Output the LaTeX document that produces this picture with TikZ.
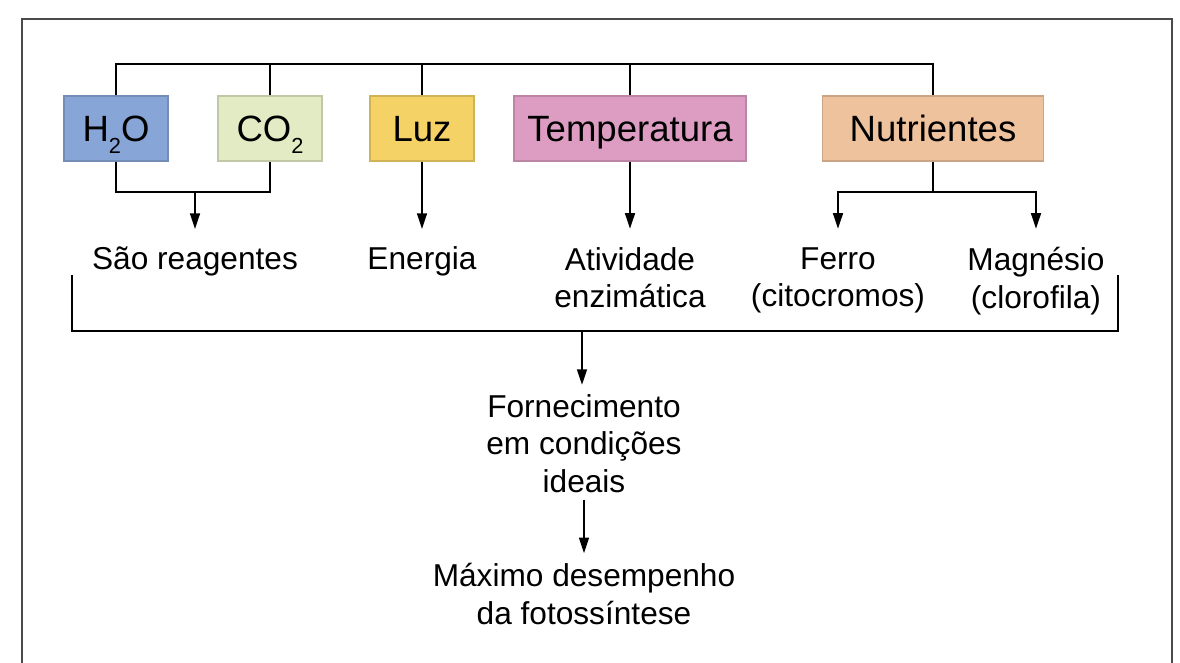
\documentclass[tikz,border=0pt]{standalone}
\usepackage{fontspec}
\setmainfont{Liberation Sans}
\usetikzlibrary{arrows.meta}

\definecolor{aguaBlue}{HTML}{87A6D7}
\definecolor{gasGreen}{HTML}{E2EBC3}
\definecolor{luzYellow}{HTML}{F5D266}
\definecolor{tempPink}{HTML}{DD9DC2}
\definecolor{nutriOrange}{HTML}{EEC29D}
\definecolor{frameGray}{HTML}{4A4A4A}

\newcommand{\subdois}[1]{\raisebox{-8.5pt}{\fontsize{15.5}{15.5}\selectfont #1}}

\tikzset{
  factor/.style={draw=#1!85!black, fill=#1, line width=0.8pt,
    minimum height=1.625cm, inner sep=0pt, text height=18.6pt, text depth=0pt,
    font=\fontsize{26}{30}\selectfont},
  effect/.style={anchor=north, align=center, inner sep=0pt,
    execute at begin node=\strut,
    font=\fontsize{22.5}{26.7}\selectfont},
  link/.style={line width=1.3pt},
  arrow/.style={line width=1.3pt, -{Triangle[length=11pt,width=7pt]}}
}

\begin{document}
\begin{tikzpicture}[x=0.025cm, y=-0.025cm]
        \useasboundingbox (0,0) rectangle (1180,663);
        \draw[frameGray, line width=1.5pt] (22,663) -- (22,19) -- (1172,19) -- (1172,663);

        % factors
        \node[factor=aguaBlue, minimum width=2.6cm] (h2o) at (116,128.5) {H\subdois{2}O};
        \node[factor=gasGreen, minimum width=2.6cm] (co2) at (270,128.5) {CO\subdois{2}};
        \node[factor=luzYellow, minimum width=2.6cm] (luz) at (422,128.5) {Luz};
        \node[factor=tempPink, minimum width=5.8cm] (temp) at (630,128.5) {Temperatura};
        \node[factor=nutriOrange, minimum width=5.525cm] (nutri) at (933,128.5) {Nutrientes};

        \coordinate (topbar) at (0,64);
        \draw[link] (h2o.north) |- (nutri.north |- topbar) -- (nutri.north);
        \foreach \f in {co2, luz, temp} {
            \draw[link] (\f.north) -- (\f.north |- topbar);
        }

        % effects
        \node[effect] (reag) at (195,243) {São reagentes};
        \node[effect] (energia) at (422,243) {Energia};
        \node[effect] (enzima) at (630,247) {Atividade\\enzimática};
        \node[effect] (ferro) at (838,247) {Ferro\\(citocromos)};
        \node[effect] (magn) at (1036,247) {Magnésio\\(clorofila)};

        \coordinate (reagjoin) at (195,192);
        \coordinate (nutrijoin) at (933,192);
        \draw[link] (h2o.south) |- (reagjoin) -| (co2.south);
        \draw[arrow, shorten >=10pt] (reagjoin) -- (reag.north);
        \draw[arrow, shorten >=10pt] (luz.south) -- (energia.north);
        \draw[arrow, shorten >=13pt] (temp.south) -- (enzima.north);
        \draw[link] (nutri.south) -- (nutrijoin);
        \draw[arrow, shorten >=13pt] (nutrijoin) -| (ferro.north);
        \draw[arrow, shorten >=13pt] (nutrijoin) -| (magn.north);

        % bracket
        \coordinate (bktL) at (72,275);
        \coordinate (bktR) at (1118,275);
        \coordinate (bktmid) at (582,331);
        \draw[link] (bktL) |- (bktmid) -| (bktR);

        \node[effect] (fornec) at (584,394) {Fornecimento\\em condições\\ideais};
        \node[effect] (maximo) at (584,563) {Máximo desempenho\\da fotossíntese};

        \draw[arrow, shorten >=6.5pt] (bktmid) -- (bktmid |- fornec.north);
        \draw[arrow, shorten <=-3pt, shorten >=7pt] (fornec.south) -- (maximo.north);
\end{tikzpicture}
\end{document}
